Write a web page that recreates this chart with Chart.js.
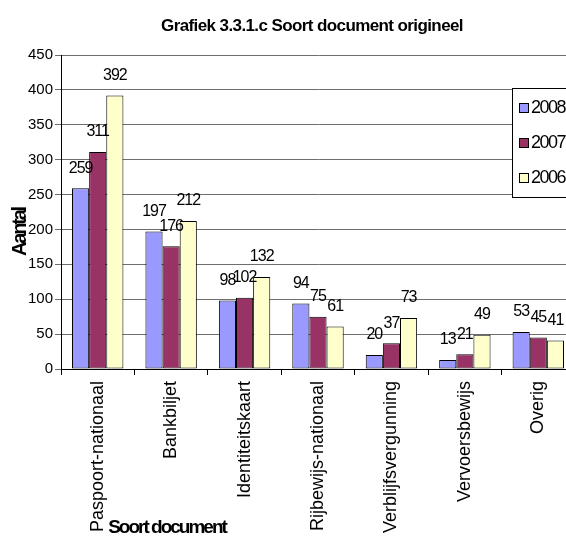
<!DOCTYPE html>
<html lang="nl">
<head>
    <meta charset="UTF-8">
    <title>Grafiek 3.3.1.c</title>
    <script src="https://cdn.jsdelivr.net/npm/chart.js"></script>
    <style>
        html, body { margin: 0; padding: 0; background: #fff; overflow: hidden; }
        #wrap { width: 566px; height: 540px; overflow: hidden; }
        canvas { display: block; }
    </style>
</head>
<body>
    <div id="wrap">
        <canvas id="docChart" width="624" height="540"></canvas>
    </div>

    <script>
        // data
        const categories = ['Paspoort-nationaal', 'Bankbiljet', 'Identiteitskaart', 'Rijbewijs-nationaal',
            'Verblijfsvergunning', 'Vervoersbewijs', 'Overig'];
        const years = ['2008', '2007', '2006'];
        const values2008 = [259, 197, 98, 94, 20, 13, 53];
        const values2007 = [311, 176, 102, 75, 37, 21, 45];
        const values2006 = [392, 212, 132, 61, 73, 49, 41];
        const yMax = 450;
        const yStep = 50;

        const FONT = '"Liberation Sans", Arial, sans-serif';

        // title, axis titles, value labels and the legend box (legend sits over the plot like in Excel)
        const decorations = {
            id: 'decorations',
            afterDatasetsDraw(chart) {
                const ctx = chart.ctx;
                ctx.save();
                ctx.fillStyle = '#000';
                ctx.font = '16px ' + FONT;
                ctx.letterSpacing = '-1px';
                ctx.textAlign = 'center';
                ctx.textBaseline = 'middle';
                chart.data.datasets.forEach((ds, i) => {
                    chart.getDatasetMeta(i).data.forEach((bar, j) => {
                        ctx.fillText(String(ds.data[j]), bar.x, bar.y - 20);
                    });
                });
                ctx.restore();
            },
            afterDraw(chart) {
                const ctx = chart.ctx;
                const area = chart.chartArea;
                ctx.save();
                ctx.fillStyle = '#000';
                ctx.textAlign = 'center';
                ctx.textBaseline = 'middle';

                ctx.font = 'bold 17px ' + FONT;
                ctx.letterSpacing = '-0.6px';
                ctx.fillText('Grafiek 3.3.1.c Soort document origineel', chart.width / 2, 26);

                ctx.font = 'bold 19px ' + FONT;
                ctx.letterSpacing = '-2px';
                ctx.fillText('Soort document', 167, 528);

                ctx.save();
                ctx.translate(20, 232);
                ctx.rotate(-Math.PI / 2);
                ctx.font = 'bold 20px ' + FONT;
                ctx.letterSpacing = '-2.2px';
                ctx.fillText('Aantal', 0, 0);
                ctx.restore();

                // legend
                const lx = 512, ly = area.top + 33, rowH = 35;
                ctx.fillStyle = '#fff';
                ctx.fillRect(lx, ly, 90, 109);
                ctx.strokeStyle = '#000';
                ctx.lineWidth = 1;
                ctx.strokeRect(lx + 0.5, ly + 0.5, 90, 109);
                ctx.font = '18px ' + FONT;
                ctx.letterSpacing = '-1.5px';
                ctx.textAlign = 'left';
                chart.data.datasets.forEach((ds, i) => {
                    const cy = ly + 20 + i * rowH;
                    ctx.fillStyle = ds.backgroundColor;
                    ctx.fillRect(lx + 7, cy - 5, 9, 9);
                    ctx.strokeRect(lx + 7.5, cy - 4.5, 9, 9);
                    ctx.fillStyle = '#000';
                    ctx.fillText(ds.label, lx + 19, cy);
                });
                ctx.restore();
            }
        };

        new Chart(document.getElementById('docChart'), {
            type: 'bar',
            data: {
                labels: categories,
                datasets: [
                    { label: years[0], data: values2008, backgroundColor: '#9999FF' },
                    { label: years[1], data: values2007, backgroundColor: '#993366' },
                    { label: years[2], data: values2006, backgroundColor: '#FFFFCC' }
                ].map(ds => Object.assign(ds, { borderColor: '#000', borderWidth: 1, borderSkipped: false }))
            },
            options: {
                responsive: false,
                animation: false,
                categoryPercentage: 0.70,
                barPercentage: 1.0,
                layout: { padding: { top: 55, left: 0, right: 49, bottom: 0 } },
                plugins: {
                    legend: { display: false },
                    title: { display: false },
                    tooltip: { enabled: false }
                },
                scales: {
                    x: {
                        afterFit(scale) { scale.height = 171; },
                        grid: { display: true, drawOnChartArea: false, color: '#000', tickLength: 6, offset: true },
                        border: { color: '#000', width: 1 },
                        ticks: {
                            autoSkip: false,
                            minRotation: 90,
                            maxRotation: 90,
                            padding: 6,
                            color: '#000',
                            font: { family: FONT, size: 18 }
                        }
                    },
                    y: {
                        min: 0,
                        max: yMax,
                        afterFit(scale) { scale.width = 61; },
                        grid: { color: '#6e6e6e', tickLength: 6 },
                        border: { color: '#000', width: 1 },
                        ticks: {
                            stepSize: yStep,
                            padding: 2,
                            color: '#000',
                            font: { family: FONT, size: 15 }
                        }
                    }
                }
            },
            plugins: [decorations]
        });
    </script>
</body>
</html>
